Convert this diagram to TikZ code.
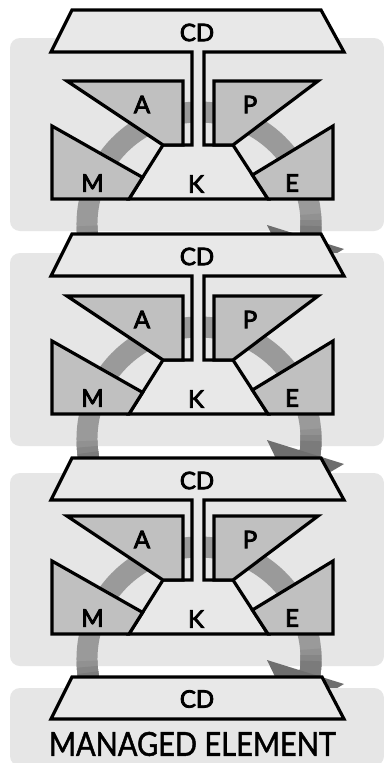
\documentclass[tikz,border=0pt]{standalone}
\usepackage{fontspec}
\setmainfont{Lato}
\newfontfamily\lblfont{Lato}[FakeBold=3.5]
\newfontfamily\mefont{Lato}[FakeBold=1.5]
\usetikzlibrary{calc}
\definecolor{bgc}{HTML}{E6E6E6}
\definecolor{cdc}{HTML}{E8E8E8}
\definecolor{shc}{HTML}{C0C0C0}
\definecolor{ringc}{HTML}{9A9A9A}
\definecolor{darkc}{HTML}{6E6E6E}
\tikzset{
  panel/.style={fill=bgc, rounded corners=10pt},
  outline/.style={draw=black, line width=3.2pt, line join=miter},
  cdshape/.style={outline, fill=cdc},
  part/.style={outline, fill=shc},
  lbl/.style={inner sep=0pt, font=\lblfont\fontsize{24}{24}\selectfont},
  ringline/.style={line width=21pt},
}
% #1 = vertical offset of the lower parts, #2 = top of CD, #3 = unit id
\newcommand\mapeunit[3]{%
  \fill[panel] (10,#1+38) rectangle (384,#1+231);
  \begin{scope}[shift={(199,#1+224)}]
    \draw[ringline, ringc] (160:112) arc[start angle=160, end angle=369, radius=112];
    \draw[ringline, ringc!80!darkc] (160:112) arc[start angle=160, end angle=179, radius=112];
    \draw[ringline, ringc!55!darkc] (160:112) arc[start angle=160, end angle=176, radius=112];
    \draw[ringline, ringc!30!darkc] (160:112) arc[start angle=160, end angle=173, radius=112];
    \draw[ringline, ringc!80!darkc] (355:112) arc[start angle=355, end angle=369, radius=112];
    \draw[ringline, ringc!55!darkc] (358:112) arc[start angle=358, end angle=369, radius=112];
    \draw[ringline, ringc!30!darkc] (361:112) arc[start angle=361, end angle=369, radius=112];
    \fill[darkc] (68,1) coordinate (hb#3) -- (145,25) coordinate (hc#3) -- (94,55) coordinate (ht#3) -- cycle;
  \end{scope}
  \draw[cdshape] (72,#2) coordinate (cd#3) -- (321,#2) -- (344,#2+42) -- (204,#2+42)
     -- (204,#1+145) -- (233,#1+145) -- (268,#1+199) -- (129,#1+199) -- (163,#1+145)
     -- (192,#1+145) -- (192,#2+42) -- (51,#2+42) -- cycle;
  \draw[part] (67,#1+81) coordinate (a#3) -- (183,#1+81) -- (183,#1+145) -- (163,#1+145) -- cycle;
  \draw[part] (214,#1+81) coordinate (p#3) -- (318,#1+81) -- (233,#1+145) -- (214,#1+145) -- cycle;
  \draw[part] (52,#1+126) coordinate (m#3) -- (142.6,#1+177.4) -- (129,#1+199) -- (52,#1+199) -- cycle;
  \draw[part] (333,#1+126) coordinate (e#3) -- (252.4,#1+175) -- (268,#1+199) -- (333,#1+199) -- cycle;
  \node[lbl] (cdl#3) at (197,#2+22.5) {CD};
  \node[lbl] (al#3) at (142,#1+104.5) {A};
  \node[lbl] (pl#3) at (250,#1+104.5) {P};
  \node[lbl] (ml#3) at (92.5,#1+183) {M};
  \node[lbl] (kl#3) at (196,#1+184) {K};
  \node[lbl] (el#3) at (292,#1+183) {E};
}
\begin{document}
\begin{tikzpicture}[x=1pt, y=-1pt]
  \useasboundingbox (0,0) rectangle (383,763);
  \fill[white] (0,0) rectangle (383,763);
  \mapeunit{0}{10}{1}
  \mapeunit{215}{234}{2}
  \mapeunit{435}{458}{3}
  \fill[panel] (10,688) rectangle (384,766);
  \draw[cdshape] (72,677) coordinate (cdb) -- (322,677) -- (344,719) -- (51,719) -- cycle;
  \node[lbl] (cdlb) at (197,699) {CD};
  \node[inner sep=0pt, font=\mefont\fontsize{33}{33}\selectfont] (me) at (192.5,744) {\scalebox{0.88}[1]{MANAGED ELEMENT}};
\end{tikzpicture}
\end{document}
